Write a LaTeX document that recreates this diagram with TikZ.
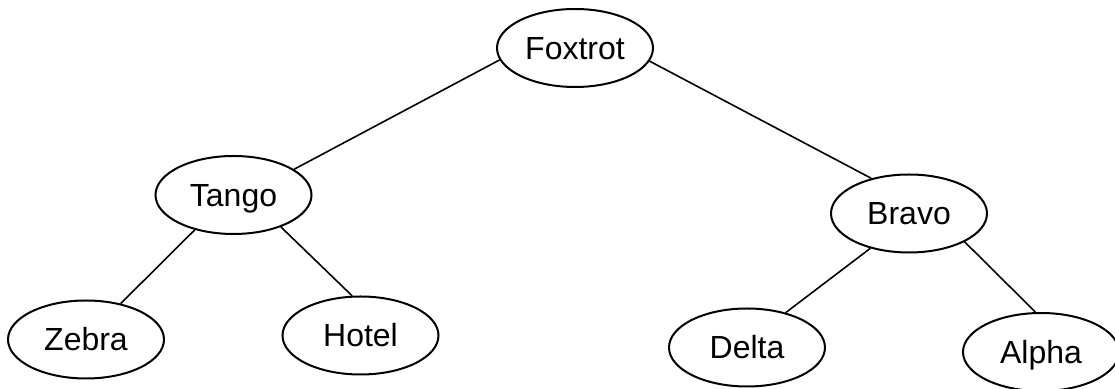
\documentclass[tikz,border=0pt]{standalone}
\usepackage{fontspec}
\setmainfont{Liberation Sans}
\usetikzlibrary{shapes.geometric}

\begin{document}
\begin{tikzpicture}[x=0.5pt,y=-0.5pt,line width=0.8pt,
  word/.style={ellipse,draw,line width=1pt,minimum width=78pt,minimum height=39pt,
    inner sep=0pt,text height=11.5pt,text depth=0pt,font=\fontsize{16}{19}\selectfont}]
\clip (0,0) rectangle (1115,389);
\useasboundingbox (0,0) rectangle (1115,389);
\node[word] (foxtrot) at (575,48) {Foxtrot};
\node[word] (tango) at (233.5,195) {Tango};
\node[word] (bravo) at (909,213.5) {Bravo};
\node[word] (zebra) at (86,339.5) {Zebra};
\node[word] (hotel) at (360.5,335.5) {Hotel};
\node[word] (delta) at (747,347.5) {Delta};
\node[word] (alpha) at (1041,352) {Alpha};
\path (foxtrot.189) edge (tango.23);
\path (foxtrot.350) edge (bravo.137);
\path (tango.222) edge (zebra.46);
\path (tango.326) edge (hotel.102);
\path (bravo.222) edge (delta.42);
\path (bravo.333) edge (alpha.98);
\end{tikzpicture}
\end{document}
